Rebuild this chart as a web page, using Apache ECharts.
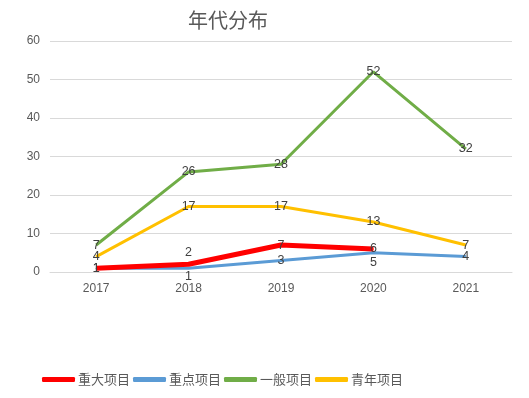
<!DOCTYPE html>
<html><head><meta charset="utf-8">
<script src="https://cdn.jsdelivr.net/npm/echarts@6/dist/echarts.min.js"></script>
<style>html,body{margin:0;padding:0;background:#fff}#c{width:529px;height:398px}</style>
</head><body><div id="c"></div>
<script>
const categories = ['2017','2018','2019','2020','2021'];
const seriesNames = ['重大项目','重点项目','一般项目','青年项目'];
const major = [1, 2, 7, 6, null];
const key = [1, 1, 3, 5, 4];
const general = [7, 26, 28, 52, 32];
const youth = [4, 17, 17, 13, 7];
const yTicks = [0, 10, 20, 30, 40, 50, 60];

const labelBase = {show:true, position:'inside', color:'#404040', fontSize:12.5, fontFamily:'Liberation Sans'};
function data(arr, overrides){
  return arr.map((v,i)=> (overrides && overrides[i]) ? {value:v, label:overrides[i]} : v);
}
const chart = echarts.init(document.getElementById('c'));
chart.setOption({
  animation:false,
  title:{text:'年代分布', left:223, top:5, textAlign:'center',
    textStyle:{fontSize:20, fontWeight:'normal', color:'#595959', fontFamily:'Noto Sans CJK SC'}},
  grid:{left:50, right:17, top:41, bottom:126},
  legend:{bottom:7, left:37, itemWidth:33, itemHeight:5, itemGap:3,
    icon:'roundRect',
    textStyle:{fontSize:13, color:'#595959', fontFamily:'Noto Sans CJK SC', padding:[0,0,0,-2]},
    data:seriesNames},
  xAxis:{type:'category', data:categories, boundaryGap:true,
    axisLine:{show:true, lineStyle:{color:'#d9d9d9'}}, axisTick:{show:false},
    axisLabel:{color:'#595959', fontSize:12, margin:11, fontFamily:'Liberation Sans'}},
  yAxis:{type:'value', min:0, max:60, interval:10,
    axisLine:{show:false}, axisTick:{show:false},
    splitLine:{lineStyle:{color:'#d9d9d9'}},
    axisLabel:{color:'#595959', fontSize:12, margin:10, fontFamily:'Liberation Sans',
      formatter:(v)=> yTicks.includes(v) ? String(v) : ''}},
  series:[
    {name:seriesNames[0], type:'line', data:data(major,{1:{position:'top', distance:5}}), symbol:'circle', symbolSize:1,
      lineStyle:{color:'#FF0000', width:5}, itemStyle:{color:'#FF0000'}, label:labelBase, z:5},
    {name:seriesNames[1], type:'line', data:data(key,{1:{position:'bottom', distance:1}, 3:{position:'bottom', distance:3}}), symbol:'circle', symbolSize:1,
      lineStyle:{color:'#5B9BD5', width:3}, itemStyle:{color:'#5B9BD5'}, label:labelBase, z:3},
    {name:seriesNames[2], type:'line', data:general, symbol:'circle', symbolSize:1,
      lineStyle:{color:'#70AD47', width:3}, itemStyle:{color:'#70AD47'}, label:labelBase, z:3},
    {name:seriesNames[3], type:'line', data:youth, symbol:'circle', symbolSize:1,
      lineStyle:{color:'#FFC000', width:3}, itemStyle:{color:'#FFC000'}, label:labelBase, z:4}
  ]
});
</script></body></html>
